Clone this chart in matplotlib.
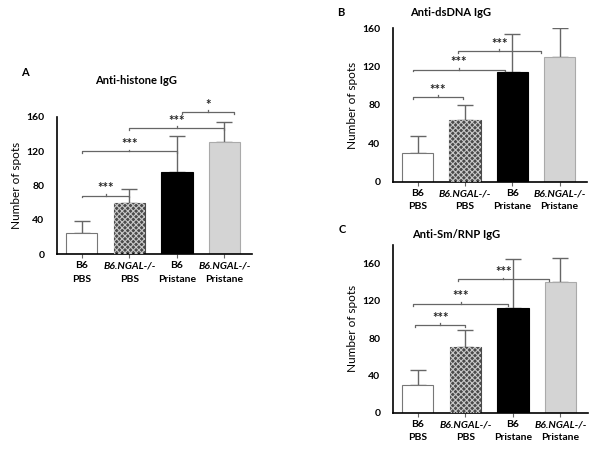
import matplotlib
matplotlib.use('Agg')
import matplotlib.pyplot as plt
from matplotlib.transforms import blended_transform_factory

plt.rcParams['font.family'] = ['Lato', 'DejaVu Sans']
plt.rcParams['hatch.linewidth'] = 0.8

# group labels (first line, second line)
line1 = ['B6', 'B6.NGAL-/-', 'B6', 'B6.NGAL-/-']
line2 = ['PBS', 'PBS', 'Pristane', 'Pristane']
italic1 = [False, True, False, True]

# panel A: anti-histone
a_mean = [25, 59, 96, 131]
a_err = [14, 17, 42, 23]
a_brackets = [(0.0, 1.0, 68, '***'), (0.0, 2.0, 120, '***'),
              (1.0, 3.0, 147, '***'), (2.1, 3.2, 166, '*')]

# panel B: anti-dsDNA
b_mean = [30, 64, 114, 130]
b_err = [18, 16, 40, 30]
b_brackets = [(-0.1, 0.95, 88, '***'), (-0.1, 1.85, 117, '***'),
              (0.85, 2.6, 136, '***')]

# panel C: anti-Sm/RNP
c_mean = [30, 71, 112, 140]
c_err = [16, 18, 53, 26]
c_brackets = [(-0.05, 1.0, 94, '***'), (-0.1, 1.9, 117, '***'),
              (0.85, 2.75, 143, '***')]

face = ['white', '#4a4a4a', 'black', '#d4d4d4']
edge = ['#777777', '#4a4a4a', 'black', '#aaaaaa']
gray = '#666666'


def panel(rect, means, errs, brackets, ylim_top, title, letter, title_xy, letter_xy):
    ax = fig.add_axes(rect)
    x = range(len(means))
    for i in x:
        ax.bar(i, means[i], width=0.66, color=face[i], edgecolor=edge[i], lw=0.8, zorder=2)
        if i == 1:
            # checker pattern over the dark fill
            ax.bar(i, means[i], width=0.66, color='none', edgecolor='#c8c8c8',
                   hatch='xxxxxx', lw=0, zorder=3)
        ax.errorbar(i, means[i], yerr=[[0], [errs[i]]], fmt='none',
                    ecolor=gray, elinewidth=1.0, capsize=6, capthick=1.0, zorder=1)
    for x0, x1, y, s in brackets:
        ax.plot([x0, x0, x1, x1], [y - 2, y, y, y - 2], color=gray, lw=0.9, clip_on=False)
        xm = (x0 + x1) / 2
        ax.plot([xm, xm], [y, y + 2], color=gray, lw=0.9, clip_on=False)
        ax.text(xm, y + 1.5, s, ha='center', va='bottom', fontsize=9.5,
                fontweight='bold', color='#222222')
    ax.set_xlim(-0.52, 3.58)
    ax.set_ylim(0, ylim_top)
    ax.set_yticks([0, 40, 80, 120, 160])
    ax.tick_params(axis='y', length=0, labelsize=7.5, pad=9)
    for lab in ax.get_yticklabels():
        lab.set_fontweight('bold')
    ax.set_xticks(list(x))
    ax.set_xticklabels([])
    ax.tick_params(axis='x', length=3, color=gray)
    ax.spines['top'].set_visible(False)
    ax.spines['right'].set_visible(False)
    ax.spines['left'].set_linewidth(1.2)
    ax.spines['bottom'].set_linewidth(1.2)
    ax.set_ylabel('Number of spots', fontsize=8.5, labelpad=3)
    trans = blended_transform_factory(ax.transData, ax.transAxes)
    h = ax.get_position().height * 4.54
    d1 = 0.12 / h
    d2 = 0.25 / h
    for i in x:
        ax.text(i, -d1, line1[i], transform=trans, ha='center', va='center',
                fontsize=7.5, fontweight='bold',
                style='italic' if italic1[i] else 'normal')
        ax.text(i, -d2, line2[i], transform=trans, ha='center', va='center',
                fontsize=7.5, fontweight='bold')
    fig.text(title_xy[0], title_xy[1], title, fontsize=8, fontweight='bold', ha='left', va='center')
    fig.text(letter_xy[0], letter_xy[1], letter, fontsize=8, fontweight='bold', ha='left', va='center')
    return ax


fig = plt.figure(figsize=(6.01, 4.54), dpi=100)

panel([57 / 601, 200 / 454, 195 / 601, 137 / 454], a_mean, a_err, a_brackets, 160,
      'Anti-histone IgG', 'A', (95 / 601, 1 - 80 / 454), (21 / 601, 1 - 73 / 454))
panel([393 / 601, 272.3 / 454, 194 / 601, 153.4 / 454], b_mean, b_err, b_brackets, 160,
      'Anti-dsDNA IgG', 'B', (410 / 601, 1 - 13 / 454), (337 / 601, 1 - 13 / 454))
panel([393 / 601, 41.3 / 454, 195 / 601, 167.7 / 454], c_mean, c_err, c_brackets, 180,
      'Anti-Sm/RNP IgG', 'C', (412 / 601, 1 - 235 / 454), (339 / 601, 1 - 229 / 454))

plt.savefig('out.png', dpi=100)
plt.close(fig)
